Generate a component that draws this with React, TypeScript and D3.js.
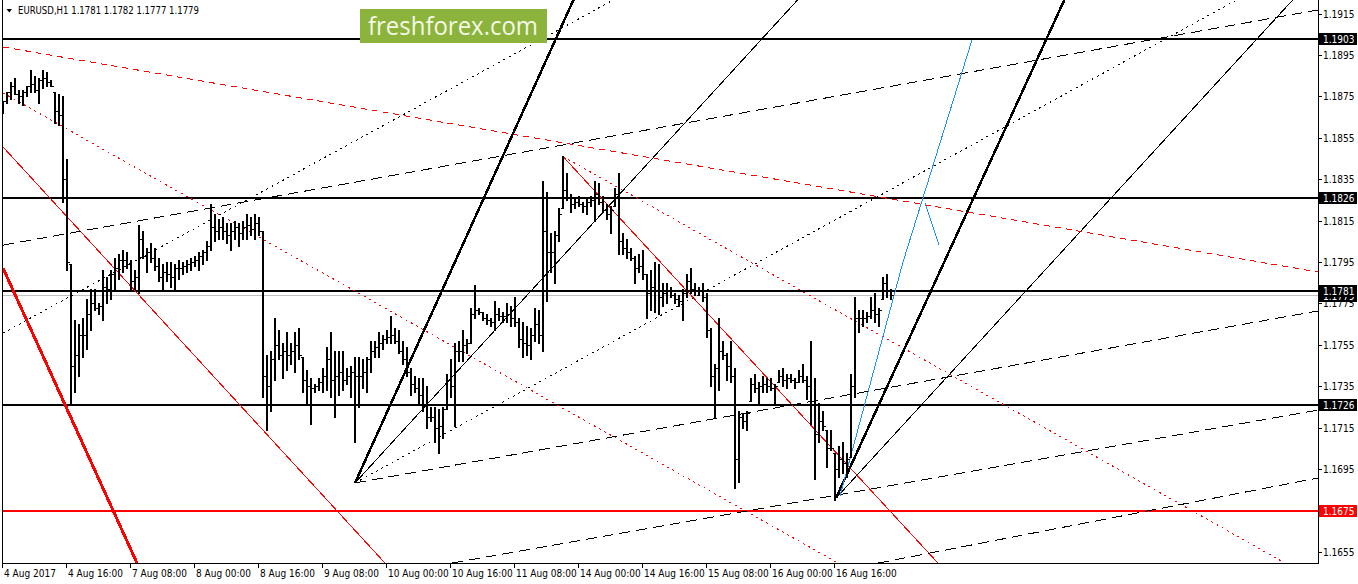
import React from 'react';
import * as d3 from 'd3';

const WIDTH = 1358;
const HEIGHT = 584;
const frame = { left: 3, right: 1318, top: 0, bottom: 563 };

const chartTitle = 'EURUSD,H1  1.1781 1.1782 1.1777 1.1779';
const logoText = 'freshforex.com';

// bar index of each time label (H1 bars)
const timeTickBars = [0, 16, 32, 48, 64, 80, 96, 112, 128, 144, 160, 176, 192, 208];
const timeTickLabels = [
  '4 Aug 2017', '4 Aug 16:00', '7 Aug 08:00', '8 Aug 00:00', '8 Aug 16:00', '9 Aug 08:00',
  '10 Aug 00:00', '10 Aug 16:00', '11 Aug 08:00', '14 Aug 00:00', '14 Aug 16:00',
  '15 Aug 08:00', '16 Aug 00:00', '16 Aug 16:00',
];

const priceTicks = [1.1915, 1.1895, 1.1875, 1.1855, 1.1835, 1.1815, 1.1795, 1.1775, 1.1755, 1.1735, 1.1715, 1.1695, 1.1675, 1.1655];

const levelPrices = [1.1903, 1.1826, 1.1781, 1.1726];
const supportPrice = 1.1675;
const bidPrice = 1.1779;

const barOpen = [
  1.1870, 1.1873, 1.1877, 1.1880, 1.1876, 1.1875, 1.1877, 1.1880, 1.1881, 1.1878,
  1.1883, 1.1884, 1.1882, 1.1877, 1.1868, 1.1866, 1.1835, 1.1794, 1.1745, 1.1750,
  1.1760, 1.1760, 1.1770, 1.1775, 1.1773, 1.1774, 1.1783, 1.1782, 1.1789, 1.1792,
  1.1796, 1.1796, 1.1794, 1.1786, 1.1788, 1.1806, 1.1798, 1.1800, 1.1797, 1.1793,
  1.1788, 1.1790, 1.1789, 1.1788, 1.1792, 1.1792, 1.1793, 1.1794, 1.1795, 1.1796,
  1.1798, 1.1800, 1.1803, 1.1812, 1.1810, 1.1812, 1.1810, 1.1808, 1.1810, 1.1812,
  1.1809, 1.1812, 1.1813, 1.1811, 1.1814, 1.1810, 1.1740, 1.1735, 1.1748, 1.1755,
  1.1750, 1.1752, 1.1750, 1.1752, 1.1755, 1.1749, 1.1738, 1.1735, 1.1734, 1.1735,
  1.1737, 1.1740, 1.1748, 1.1738, 1.1740, 1.1742, 1.1738, 1.1740, 1.1742, 1.1740,
  1.1740, 1.1742, 1.1748, 1.1752, 1.1754, 1.1756, 1.1758, 1.1759, 1.1760, 1.1757,
  1.1752, 1.1748, 1.1742, 1.1736, 1.1734, 1.1731, 1.1726, 1.1720, 1.1720, 1.1715,
  1.1716, 1.1724, 1.1738, 1.1735, 1.1752, 1.1752, 1.1755, 1.1756, 1.1770, 1.1772,
  1.1771, 1.1768, 1.1767, 1.1766, 1.1770, 1.1769, 1.1769, 1.1770, 1.1768, 1.1766,
  1.1758, 1.1756, 1.1755, 1.1760, 1.1765, 1.1760, 1.1810, 1.1800, 1.1800, 1.1808,
  1.1821, 1.1830, 1.1826, 1.1823, 1.1824, 1.1823, 1.1822, 1.1824, 1.1825, 1.1828,
  1.1824, 1.1820, 1.1818, 1.1822, 1.1828, 1.1805, 1.1802, 1.1800, 1.1797, 1.1792,
  1.1793, 1.1789, 1.1780, 1.1783, 1.1781, 1.1778, 1.1780, 1.1781, 1.1779, 1.1777,
  1.1776, 1.1780, 1.1786, 1.1782, 1.1781, 1.1781, 1.1778, 1.1762, 1.1740, 1.1744,
  1.1752, 1.1750, 1.1745, 1.1740, 1.1700, 1.1720, 1.1718, 1.1728, 1.1736, 1.1734,
  1.1735, 1.1736, 1.1735, 1.1734, 1.1737, 1.1740, 1.1738, 1.1739, 1.1738, 1.1737,
  1.1740, 1.1738, 1.1735, 1.1728, 1.1712, 1.1718, 1.1714, 1.1705, 1.1703, 1.1695,
  1.1700, 1.1698, 1.1701, 1.1735, 1.1768, 1.1768, 1.1768, 1.1769, 1.1772, 1.1770,
  1.1777, 1.1785, 1.1781,
];

const barHigh = [
  1.1873, 1.1877, 1.1882, 1.1884, 1.1878, 1.1878, 1.1880, 1.1888, 1.1885, 1.1884,
  1.1888, 1.1887, 1.1883, 1.1877, 1.1876, 1.1875, 1.1845, 1.1794, 1.1767, 1.1765,
  1.1768, 1.1777, 1.1782, 1.1782, 1.1775, 1.1791, 1.1788, 1.1791, 1.1797, 1.1799,
  1.1801, 1.1800, 1.1796, 1.1791, 1.1813, 1.1810, 1.1802, 1.1804, 1.1802, 1.1797,
  1.1794, 1.1795, 1.1795, 1.1794, 1.1796, 1.1795, 1.1796, 1.1797, 1.1798, 1.1800,
  1.1801, 1.1805, 1.1823, 1.1818, 1.1816, 1.1817, 1.1814, 1.1814, 1.1815, 1.1814,
  1.1815, 1.1818, 1.1817, 1.1818, 1.1817, 1.1810, 1.1750, 1.1752, 1.1768, 1.1762,
  1.1756, 1.1761, 1.1756, 1.1761, 1.1763, 1.1749, 1.1743, 1.1739, 1.1736, 1.1739,
  1.1744, 1.1754, 1.1761, 1.1752, 1.1752, 1.1752, 1.1744, 1.1745, 1.1749, 1.1749,
  1.1748, 1.1749, 1.1757, 1.1757, 1.1761, 1.1760, 1.1762, 1.1769, 1.1763, 1.1762,
  1.1757, 1.1754, 1.1744, 1.1740, 1.1739, 1.1739, 1.1735, 1.1725, 1.1725, 1.1724,
  1.1725, 1.1741, 1.1748, 1.1756, 1.1757, 1.1762, 1.1758, 1.1773, 1.1784, 1.1773,
  1.1771, 1.1770, 1.1768, 1.1776, 1.1773, 1.1771, 1.1775, 1.1774, 1.1778, 1.1768,
  1.1766, 1.1764, 1.1763, 1.1773, 1.1772, 1.1834, 1.1829, 1.1809, 1.1810, 1.1821,
  1.1846, 1.1838, 1.1828, 1.1826, 1.1827, 1.1824, 1.1826, 1.1827, 1.1834, 1.1833,
  1.1827, 1.1823, 1.1822, 1.1831, 1.1838, 1.1809, 1.1806, 1.1802, 1.1798, 1.1799,
  1.1801, 1.1789, 1.1791, 1.1795, 1.1794, 1.1785, 1.1785, 1.1783, 1.1780, 1.1779,
  1.1782, 1.1789, 1.1792, 1.1785, 1.1783, 1.1785, 1.1780, 1.1763, 1.1746, 1.1768,
  1.1757, 1.1751, 1.1757, 1.1744, 1.1723, 1.1722, 1.1723, 1.1739, 1.1741, 1.1737,
  1.1740, 1.1739, 1.1739, 1.1736, 1.1743, 1.1744, 1.1741, 1.1741, 1.1739, 1.1743,
  1.1746, 1.1740, 1.1757, 1.1739, 1.1727, 1.1723, 1.1714, 1.1714, 1.1703, 1.1706,
  1.1708, 1.1703, 1.1741, 1.1778, 1.1772, 1.1772, 1.1771, 1.1778, 1.1780, 1.1773,
  1.1788, 1.1789, 1.1782,
];

const barLow = [
  1.1867, 1.1872, 1.1874, 1.1876, 1.1872, 1.1871, 1.1875, 1.1877, 1.1877, 1.1872,
  1.1879, 1.1880, 1.1880, 1.1862, 1.1861, 1.1824, 1.1791, 1.1726, 1.1732, 1.1740,
  1.1749, 1.1753, 1.1762, 1.1772, 1.1770, 1.1767, 1.1775, 1.1777, 1.1782, 1.1787,
  1.1790, 1.1792, 1.1782, 1.1782, 1.1780, 1.1797, 1.1790, 1.1795, 1.1791, 1.1786,
  1.1782, 1.1786, 1.1783, 1.1782, 1.1787, 1.1789, 1.1790, 1.1791, 1.1793, 1.1791,
  1.1794, 1.1796, 1.1801, 1.1805, 1.1806, 1.1806, 1.1804, 1.1801, 1.1806, 1.1803,
  1.1806, 1.1806, 1.1808, 1.1806, 1.1808, 1.1730, 1.1714, 1.1723, 1.1738, 1.1748,
  1.1739, 1.1743, 1.1746, 1.1742, 1.1748, 1.1732, 1.1727, 1.1717, 1.1732, 1.1733,
  1.1732, 1.1733, 1.1730, 1.1720, 1.1731, 1.1733, 1.1736, 1.1730, 1.1708, 1.1725,
  1.1734, 1.1732, 1.1742, 1.1749, 1.1749, 1.1753, 1.1756, 1.1756, 1.1756, 1.1751,
  1.1746, 1.1740, 1.1731, 1.1732, 1.1727, 1.1723, 1.1715, 1.1718, 1.1708, 1.1703,
  1.1710, 1.1724, 1.1730, 1.1716, 1.1747, 1.1747, 1.1751, 1.1756, 1.1768, 1.1770,
  1.1767, 1.1765, 1.1764, 1.1762, 1.1767, 1.1766, 1.1766, 1.1764, 1.1764, 1.1754,
  1.1749, 1.1750, 1.1748, 1.1757, 1.1756, 1.1752, 1.1776, 1.1790, 1.1785, 1.1805,
  1.1821, 1.1825, 1.1819, 1.1821, 1.1822, 1.1819, 1.1818, 1.1822, 1.1815, 1.1823,
  1.1819, 1.1816, 1.1809, 1.1822, 1.1799, 1.1799, 1.1797, 1.1796, 1.1785, 1.1790,
  1.1787, 1.1768, 1.1772, 1.1771, 1.1770, 1.1774, 1.1775, 1.1778, 1.1775, 1.1774,
  1.1767, 1.1778, 1.1780, 1.1779, 1.1779, 1.1776, 1.1759, 1.1735, 1.1720, 1.1733,
  1.1748, 1.1738, 1.1737, 1.1686, 1.1689, 1.1715, 1.1714, 1.1728, 1.1732, 1.1727,
  1.1732, 1.1732, 1.1733, 1.1727, 1.1737, 1.1735, 1.1734, 1.1737, 1.1734, 1.1737,
  1.1737, 1.1729, 1.1717, 1.1690, 1.1708, 1.1714, 1.1696, 1.1704, 1.1680, 1.1691,
  1.1693, 1.1691, 1.1701, 1.1730, 1.1761, 1.1764, 1.1766, 1.1768, 1.1766, 1.1764,
  1.1777, 1.1778, 1.1777,
];

const barClose = [
  1.1873, 1.1877, 1.1880, 1.1876, 1.1875, 1.1877, 1.1880, 1.1881, 1.1878, 1.1883,
  1.1884, 1.1882, 1.1880, 1.1868, 1.1866, 1.1835, 1.1795, 1.1745, 1.1750, 1.1760,
  1.1760, 1.1770, 1.1775, 1.1773, 1.1774, 1.1783, 1.1782, 1.1789, 1.1792, 1.1796,
  1.1796, 1.1794, 1.1786, 1.1788, 1.1806, 1.1798, 1.1800, 1.1797, 1.1793, 1.1788,
  1.1790, 1.1789, 1.1788, 1.1792, 1.1792, 1.1793, 1.1794, 1.1795, 1.1796, 1.1798,
  1.1800, 1.1803, 1.1812, 1.1810, 1.1812, 1.1810, 1.1808, 1.1810, 1.1812, 1.1809,
  1.1812, 1.1813, 1.1811, 1.1814, 1.1810, 1.1740, 1.1735, 1.1748, 1.1755, 1.1750,
  1.1752, 1.1750, 1.1752, 1.1755, 1.1750, 1.1738, 1.1735, 1.1734, 1.1735, 1.1737,
  1.1740, 1.1748, 1.1738, 1.1740, 1.1742, 1.1738, 1.1740, 1.1742, 1.1740, 1.1740,
  1.1742, 1.1748, 1.1752, 1.1754, 1.1756, 1.1758, 1.1759, 1.1760, 1.1757, 1.1752,
  1.1748, 1.1742, 1.1736, 1.1734, 1.1731, 1.1726, 1.1720, 1.1720, 1.1715, 1.1716,
  1.1724, 1.1738, 1.1735, 1.1752, 1.1752, 1.1755, 1.1756, 1.1770, 1.1772, 1.1771,
  1.1768, 1.1767, 1.1766, 1.1770, 1.1769, 1.1769, 1.1770, 1.1768, 1.1766, 1.1758,
  1.1756, 1.1755, 1.1760, 1.1765, 1.1760, 1.1810, 1.1800, 1.1800, 1.1808, 1.1818,
  1.1830, 1.1826, 1.1823, 1.1824, 1.1823, 1.1822, 1.1824, 1.1825, 1.1828, 1.1824,
  1.1820, 1.1818, 1.1820, 1.1828, 1.1805, 1.1802, 1.1800, 1.1797, 1.1792, 1.1793,
  1.1789, 1.1780, 1.1783, 1.1781, 1.1778, 1.1780, 1.1781, 1.1779, 1.1777, 1.1776,
  1.1780, 1.1786, 1.1782, 1.1781, 1.1781, 1.1778, 1.1762, 1.1740, 1.1744, 1.1752,
  1.1750, 1.1745, 1.1740, 1.1700, 1.1720, 1.1718, 1.1722, 1.1736, 1.1734, 1.1735,
  1.1736, 1.1735, 1.1734, 1.1735, 1.1740, 1.1738, 1.1739, 1.1738, 1.1737, 1.1740,
  1.1738, 1.1735, 1.1728, 1.1712, 1.1718, 1.1716, 1.1705, 1.1705, 1.1695, 1.1700,
  1.1698, 1.1700, 1.1735, 1.1768, 1.1768, 1.1768, 1.1769, 1.1772, 1.1770, 1.1772,
  1.1785, 1.1781, 1.1779,
];

// drawn objects: [bar index, price] anchors
type Pt = [number, number];
const redDashTrend: Pt[] = [[0, 1.18989], [328.75, 1.17902]];
const redDotChannelA: Pt[] = [[0, 1.18767], [208.75, 1.16496]];
const redDotChannelB: Pt[] = [[140, 1.1846], [320.5, 1.16496]];
const redThinTrendA: Pt[] = [[0, 1.18506], [95.5, 1.16496]];
const redThinTrendB: Pt[] = [[140, 1.1846], [233.75, 1.16496]];
const redThickTrend: Pt[] = [[0, 1.17921], [33.5, 1.16496]];
const fanOneThick: Pt[] = [[88, 1.16883], [142.6, 1.19216]];
const fanOneThin: Pt[] = [[88, 1.16883], [197.5, 1.19192]];
const fanOneDotted: Pt[] = [[88, 1.16883], [218, 1.18259]];
const fanOneDashed: Pt[] = [[88, 1.16883], [328.75, 1.17714]];
const dottedUpper: Pt[] = [[0, 1.17607], [151.25, 1.19202]];
const dashedUpper: Pt[] = [[0, 1.18032], [328.75, 1.19168]];
const dashedLowerA: Pt[] = [[112.25, 1.16496], [328.75, 1.17235]];
const dashedLowerB: Pt[] = [[218.75, 1.16496], [328.75, 1.16907]];
const fanTwoThick: Pt[] = [[208.25, 1.16810], [265, 1.19202]];
const fanTwoThin: Pt[] = [[208.25, 1.16810], [321.75, 1.19202]];
const forecastPath: Pt[] = [[209.25, 1.16820], [225, 1.17950], [242.25, 1.19023]];
const forecastBranch: Pt[] = [[230.5, 1.18235], [234, 1.18032]];

const labelFont = "'DejaVu Sans Condensed', 'Liberation Sans', Arial, sans-serif";

export default function App() {
  const x = d3.scaleLinear().domain([0, (frame.right - frame.left) / 4]).range([frame.left, frame.right]);
  const y = d3.scaleLinear().domain([1.1903, 1.1675]).range([38.5, 510.5]);
  const line = d3.line<Pt>().x(d => x(d[0])).y(d => y(d[1]));

  const ray = (pts: Pt[]): Pt[] => {
    const [a, b] = pts;
    return [a, [b[0] + (b[0] - a[0]) * 20, b[1] + (b[1] - a[1]) * 20]];
  };

  const trendDefs = [
    { pts: ray(redDashTrend), stroke: '#ff0000', w: 1, dash: '6 5' },
    { pts: ray(redDotChannelA), stroke: '#ff0000', w: 1, dash: '2 4' },
    { pts: ray(redDotChannelB), stroke: '#ff0000', w: 1, dash: '2 4' },
    { pts: ray(redThinTrendA), stroke: '#ff0000', w: 1, dash: undefined },
    { pts: ray(redThinTrendB), stroke: '#ff0000', w: 1, dash: undefined },
    { pts: ray(redThickTrend), stroke: '#ff0000', w: 3, dash: undefined },
    { pts: ray(fanOneThick), stroke: '#000', w: 2.5, dash: undefined },
    { pts: ray(fanOneThin), stroke: '#000', w: 1, dash: undefined },
    { pts: ray(fanOneDotted), stroke: '#000', w: 1, dash: '2 4' },
    { pts: ray(fanOneDashed), stroke: '#000', w: 1, dash: '11 6' },
    { pts: ray(dottedUpper), stroke: '#000', w: 1, dash: '2 4' },
    { pts: ray(dashedUpper), stroke: '#000', w: 1, dash: '11 6' },
    { pts: ray(dashedLowerA), stroke: '#000', w: 1, dash: '11 6' },
    { pts: ray(dashedLowerB), stroke: '#000', w: 1, dash: '11 6' },
    { pts: ray(fanTwoThick), stroke: '#000', w: 2.5, dash: undefined },
    { pts: ray(fanTwoThin), stroke: '#000', w: 1, dash: undefined },
    { pts: forecastPath, stroke: '#1e90ff', w: 1, dash: undefined },
    { pts: forecastBranch, stroke: '#1e90ff', w: 1, dash: undefined },
  ];

  const py = (p: number) => Math.round(y(p));

  return (
    <svg width={WIDTH} height={HEIGHT} style={{ position: 'absolute', left: 0, top: 0, background: '#fff' }}>
      <defs>
        <clipPath id="plot">
          <rect x={frame.left} y={frame.top} width={frame.right - frame.left} height={frame.bottom - frame.top} />
        </clipPath>
      </defs>
      <rect width={WIDTH} height={HEIGHT} fill="#fff" />

      <g clipPath="url(#plot)" shapeRendering="crispEdges">
        {/* horizontal levels */}
        <line x1={frame.left} x2={frame.right} y1={py(bidPrice) + 0.5} y2={py(bidPrice) + 0.5} stroke="#c0c0c0" strokeWidth={1} />
        {levelPrices.map(p => (
          <line key={p} x1={frame.left} x2={frame.right} y1={py(p)} y2={py(p)} stroke="#000" strokeWidth={2} />
        ))}
        <line x1={frame.left} x2={frame.right} y1={py(supportPrice)} y2={py(supportPrice)} stroke="#ff0000" strokeWidth={2} />

        {/* trend objects */}
        {trendDefs.map((t, i) => (
          <path key={i} d={line(t.pts) || ''} fill="none" stroke={t.stroke} strokeWidth={t.w} strokeDasharray={t.dash} />
        ))}

        {/* OHLC bars */}
        {barHigh.map((h, i) => {
          const bx = Math.round(x(i));
          const yh = py(h);
          const yl = py(barLow[i]);
          return (
            <g key={i} fill="#000">
              <rect x={bx - 1} y={yh} width={2} height={Math.max(1, yl - yh + 1)} />
              <rect x={bx - 2} y={py(barOpen[i])} width={1} height={1} />
              <rect x={bx + 1} y={py(barClose[i])} width={1.5} height={1} />
            </g>
          );
        })}
      </g>

      {/* frame */}
      <g shapeRendering="crispEdges" stroke="#000" strokeWidth={1}>
        <line x1={frame.left - 0.5} x2={frame.left - 0.5} y1={0} y2={frame.bottom} />
        <line x1={frame.right + 0.5} x2={frame.right + 0.5} y1={0} y2={frame.bottom + 1} />
        <line x1={frame.left - 1} x2={frame.right + 1} y1={frame.bottom + 0.5} y2={frame.bottom + 0.5} />
      </g>

      {/* title */}
      <polygon points="6.5,9 12,9 9.25,12.5" fill="#000" />
      <text x={18} y={14} fontFamily={labelFont} fontSize={10.5} fill="#000" textLength={181} lengthAdjust="spacingAndGlyphs">{chartTitle}</text>

      {/* logo */}
      <rect x={360} y={9} width={187} height={34} fill="#8cb43c" />
      <text x={368} y={35} fontFamily="'Open Sans', 'DejaVu Sans', sans-serif" fontSize={26} fill="#f4f8e6" textLength={170} lengthAdjust="spacingAndGlyphs">{logoText}</text>

      {/* price axis */}
      <g fontFamily={labelFont} fontSize={10} fill="#000">
        {priceTicks.map(p => (
          <g key={p}>
            <line x1={frame.right + 1} x2={frame.right + 4} y1={py(p) + 0.5} y2={py(p) + 0.5} stroke="#000" shapeRendering="crispEdges" />
            <text x={1323} y={py(p) + 4}>{p.toFixed(4)}</text>
          </g>
        ))}
        <rect x={1319} y={py(bidPrice) - 5} width={38} height={12} fill="#000" />
        <text x={1323} y={py(bidPrice) + 5} fill="#fff">{bidPrice.toFixed(4)}</text>
        {levelPrices.map(p => (
          <g key={p}>
            <rect x={1319} y={py(p) - 6} width={38} height={12} fill="#000" />
            <text x={1323} y={py(p) + 4} fill="#fff">{p.toFixed(4)}</text>
          </g>
        ))}
        <rect x={1319} y={py(supportPrice) - 6} width={38} height={12} fill="#ff0000" />
        <text x={1323} y={py(supportPrice) + 4} fill="#fff">{supportPrice.toFixed(4)}</text>
      </g>

      {/* time axis */}
      <g fontFamily={labelFont} fontSize={10} fill="#000">
        {timeTickBars.map((b, i) => {
          const tx = Math.round(x(b)) - 0.5;
          return (
            <g key={b}>
              <line x1={tx} x2={tx} y1={frame.bottom} y2={frame.bottom + 5} stroke="#000" shapeRendering="crispEdges" />
              <text x={tx + 1.5} y={577}>{timeTickLabels[i]}</text>
            </g>
          );
        })}
      </g>
    </svg>
  );
}
